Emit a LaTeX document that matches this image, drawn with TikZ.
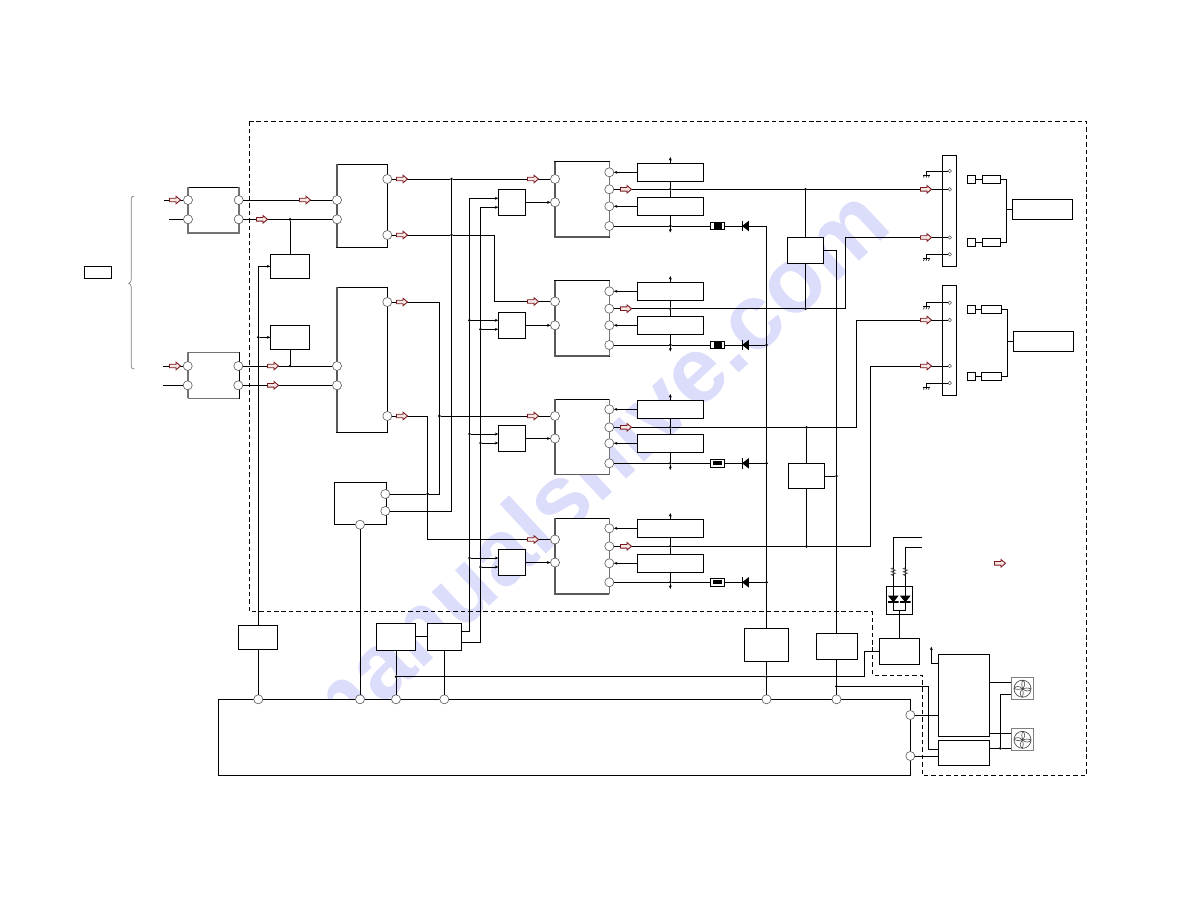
\documentclass[tikz,border=0pt]{standalone}
\usepackage{fontspec}
\setmainfont{Liberation Sans}
\usetikzlibrary{arrows.meta}
\definecolor{arrowred}{HTML}{7A1A1E}
\definecolor{arrowpink}{HTML}{F6E6E6}
\definecolor{markcolor}{HTML}{DCDCFB}
\tikzset{
	wh/.style 2 args={minimum width=#1*0.75pt,minimum height=#2*0.75pt},
	blockbox/.style={draw,fill=white,line width=.75pt,inner sep=0pt,outer sep=0pt},
	fanbox/.style={draw=gray,fill=white,line width=.8pt,inner sep=0pt,outer sep=0pt},
	port/.style={circle,draw=gray!70!black,fill=white,line width=.45pt,minimum size=6.8pt,inner sep=0pt,outer sep=0pt},
	pin/.style={circle,draw=gray!70!black,fill=white,line width=.4pt,minimum size=2.6pt,inner sep=0pt,outer sep=0pt},
	jdot/.style={circle,fill=black,minimum size=2.2pt,inner sep=0pt,outer sep=0pt},
	wire/.style={line width=.75pt},
	wiretip/.style={line width=.75pt,-{Stealth[length=2.6pt,width=2.2pt]}},
	heavyedge/.style={draw=black!65,line width=1.3pt},
	softedge/.style={draw=black!55,line width=.9pt},
	fbead/.style={draw,fill=white,line width=.75pt,inner sep=0pt,outer sep=0pt,minimum width=10.8pt,minimum height=5.6pt},
	fcore/.style={fill=black,inner sep=0pt,outer sep=0pt},
	diodeL/.style={inner sep=0pt,outer sep=0pt,minimum width=5.2pt,minimum height=8pt,path picture={
		\fill (path picture bounding box.north east) -- (path picture bounding box.south east) -- (path picture bounding box.west) -- cycle;
		\draw[line width=1.2pt] (path picture bounding box.north west) -- (path picture bounding box.south west);}},
	diodeD/.style={inner sep=0pt,outer sep=0pt,minimum width=8pt,minimum height=5pt,path picture={
		\fill (path picture bounding box.north west) -- (path picture bounding box.north east) -- (path picture bounding box.south) -- cycle;
		\draw[line width=1.3pt] (path picture bounding box.south west) -- (path picture bounding box.south east);}},
	flowarrow/.pic={\draw[draw=arrowred,fill=arrowpink,line width=.65pt] (-5.5,-1.8) -- (1,-1.8) -- (1,-3.8) -- (5.5,0) -- (1,3.8) -- (1,1.8) -- (-5.5,1.8) -- cycle;},
	groundsym/.pic={\draw[line width=.6pt] (-3,0) -- (4,0);
		\draw[line width=.45pt] (-2.5,2.5) -- (-1.5,0) (0,2.5) -- (1,0) (2.5,2.5) -- (3.5,0);},
	zigres/.pic={\draw[line width=.55pt,draw=black!70] (0,-4) -- (-2,-3) -- (2,-1.5) -- (-2,0) -- (2,1.5) -- (-2,3) -- (0,4);},
	fanblades/.pic={\draw[line width=.5pt,draw=black!70] (0,0) circle (8.5);
		\draw[line width=.45pt,draw=black!70] (0,0) .. controls (3,-3) and (3,-7) .. (0,-8.5) (0,0) .. controls (-1,-3) and (-1,-6) .. (0,-8.5);
		\draw[line width=.45pt,draw=black!70] (0,0) .. controls (3,3) and (7,3) .. (8.5,0) (0,0) .. controls (3,-1) and (6,-1) .. (8.5,0);
		\draw[line width=.45pt,draw=black!70] (0,0) .. controls (-3,3) and (-3,7) .. (0,8.5) (0,0) .. controls (1,3) and (1,6) .. (0,8.5);
		\draw[line width=.45pt,draw=black!70] (0,0) .. controls (-3,-3) and (-7,-3) .. (-8.5,0) (0,0) .. controls (-3,1) and (-6,1) .. (-8.5,0);}
}
\begin{document}
\begin{tikzpicture}[x=0.75pt,y=-0.75pt]
	\useasboundingbox (0,0) rectangle (1188,918);

	% watermark
	\node[text=markcolor,font=\bfseries\fontsize{70}{70}\selectfont,rotate=43,inner sep=0pt] (mark) at (585,472) {manualshive.com};

	% outlines
	\draw[line width=.75pt,dash pattern=on 3.4pt off 2.2pt] (249,121) -- (1086.5,121) -- (1086.5,775.5) -- (922.3,775.5) -- (922.3,675.3) -- (872.7,675.3) -- (872.7,611.5) -- (249,611.5) -- cycle;
	\draw[gray,line width=.5pt] (134.3,196) .. controls (132,196) and (131.3,197) .. (131.3,199) -- (131.3,279) .. controls (131.3,281.5) and (130.5,283) .. (128.7,283.3) .. controls (130.5,283.6) and (131.3,285) .. (131.3,288) -- (131.3,366) .. controls (131.3,368) and (132,369) .. (134.3,369);
	\node[blockbox,wh={27.4}{12}] (legendbox) at (98,272.3) {};

	% input side
	\node[blockbox,wh={51}{46}] (inA) at (213.5,210) {};
	\node[blockbox,wh={51}{45.6}] (inB) at (213.5,375.5) {};
	\node[blockbox,wh={50.5}{83}] (ampC) at (362,205.8) {};
	\node[blockbox,wh={50.5}{144.7}] (ampD) at (362,359.7) {};
	\node[blockbox,wh={39.4}{24}] (swA) at (290,266.3) {};
	\node[blockbox,wh={39.4}{24}] (swB) at (290,337.3) {};
	\node[blockbox,wh={52}{42.4}] (ctlE) at (360.4,503.5) {};
	\node[blockbox,wh={39}{24}] (swP) at (258.3,637) {};
	\draw[softedge] (inA.north west) -- (inA.south west) -- (inA.south east) -- (inA.north east);
	\draw[softedge] (inB.south west) -- (inB.north west) -- (inB.north east);
	\draw[softedge] (inB.south west) -- (inB.south east);
	\draw[heavyedge] (ampC.north west) -- (ampC.south west);
	\draw[heavyedge] (ampD.north west) -- (ampD.south west);

	% power stages
	\node[blockbox,wh={54.6}{75.6}] (icA) at (582,199.5) {};
	\node[blockbox,wh={54.6}{75.6}] (icB) at (582,318.5) {};
	\node[blockbox,wh={54.6}{75.6}] (icC) at (582,436.8) {};
	\node[blockbox,wh={54.6}{75.6}] (icD) at (582,556) {};
	\draw[heavyedge] (icA.north west) -- (icA.south west) -- (icA.south east);
	\draw[heavyedge] (icB.north west) -- (icB.south west) -- (icB.south east);
	\draw[heavyedge] (icC.north west) -- (icC.south west) -- (icC.south east);
	\draw[heavyedge] (icD.north west) -- (icD.south west) -- (icD.south east);
	\draw[softedge] (icA.north east) -- (icA.south east);
	\draw[softedge] (icB.north east) -- (icB.south east);
	\draw[softedge] (icC.north east) -- (icC.south east);
	\draw[softedge] (icD.north east) -- (icD.south east);
	\node[blockbox,wh={27.4}{26}] (mixA) at (512,202.3) {};
	\node[blockbox,wh={27.4}{26}] (mixB) at (512,325.3) {};
	\node[blockbox,wh={27.4}{26}] (mixC) at (512,438.5) {};
	\node[blockbox,wh={27.4}{26}] (mixD) at (512,562.5) {};
	\node[blockbox,wh={66}{18}] (regA1) at (670.3,172.3) {};
	\node[blockbox,wh={66}{18}] (regA2) at (670.3,206.3) {};
	\node[blockbox,wh={66}{18}] (regB1) at (670.3,291.3) {};
	\node[blockbox,wh={66}{18}] (regB2) at (670.3,325.3) {};
	\node[blockbox,wh={66}{18}] (regC1) at (670.3,409.3) {};
	\node[blockbox,wh={66}{18}] (regC2) at (670.3,443.3) {};
	\node[blockbox,wh={66}{18}] (regD1) at (670.3,528.3) {};
	\node[blockbox,wh={66}{18}] (regD2) at (670.3,563.3) {};
	\node[blockbox,wh={36.4}{26}] (detA) at (805.5,250.3) {};
	\node[blockbox,wh={36.4}{25.4}] (detB) at (806.5,476) {};

	% bottom row
	\node[blockbox,wh={39.4}{27}] (gateF) at (396,636.8) {};
	\node[blockbox,wh={33.4}{27}] (gateG) at (444.3,636.8) {};
	\node[blockbox,wh={44}{33}] (psuL) at (766.5,644.5) {};
	\node[blockbox,wh={41}{26}] (psuM) at (836.5,646) {};
	\node[blockbox,wh={40.4}{26}] (drvH) at (899.5,651.3) {};
	\node[blockbox,wh={26.4}{28}] (ledbox) at (899.5,600.3) {};
	\node[blockbox,wh={691.5}{76.2}] (board) at (564.7,737.4) {};
	\node[blockbox,wh={51}{82}] (fandrvJ) at (963.8,695.3) {};
	\node[blockbox,wh={51}{25}] (fandrvK) at (963.8,752.8) {};
	\node[fanbox,wh={22.4}{22}] (fanA) at (1022.5,688.7) {};
	\node[fanbox,wh={22.4}{22}] (fanB) at (1022.5,739.8) {};
	\pic at (1022.5,688.7) {fanblades};
	\pic at (1022.5,739.8) {fanblades};

	% speaker side
	\node[blockbox,wh={14}{111}] (connA) at (949.3,210.8) {};
	\node[blockbox,wh={14}{110}] (connB) at (949.3,340.3) {};
	\node[blockbox,wh={8.4}{8}] (sqA1) at (971.5,179.3) {};
	\node[blockbox,wh={8.4}{8}] (sqA2) at (971.5,242.3) {};
	\node[blockbox,wh={8.4}{8}] (sqB1) at (971.5,309.3) {};
	\node[blockbox,wh={8.4}{8}] (sqB2) at (971.5,376.3) {};
	\node[blockbox,wh={18.4}{8.6}] (resA1) at (991.5,179.3) {};
	\node[blockbox,wh={18.4}{8.6}] (resA2) at (991.5,242.3) {};
	\node[blockbox,wh={20.4}{8.6}] (resB1) at (991.5,309.3) {};
	\node[blockbox,wh={20.4}{8.6}] (resB2) at (991.5,376.3) {};
	\node[blockbox,wh={60.4}{20}] (spkA) at (1042.5,209.3) {};
	\node[blockbox,wh={60.4}{20}] (spkB) at (1043.5,341.3) {};

	% ports
	\node[port] (inA1) at (188,200) {};
	\node[port] (inA2) at (188,219.3) {};
	\node[port] (inA3) at (238.7,200) {};
	\node[port] (inA4) at (238.7,219.3) {};
	\node[port] (inB1) at (187.7,366) {};
	\node[port] (inB2) at (187.7,385.3) {};
	\node[port] (inB3) at (238.3,366) {};
	\node[port] (inB4) at (238.3,385.3) {};
	\node[port] (ampC1) at (337,200) {};
	\node[port] (ampC2) at (337,219.3) {};
	\node[port] (ampC3) at (387.3,179) {};
	\node[port] (ampC4) at (387.3,235) {};
	\node[port] (ampD1) at (337,366) {};
	\node[port] (ampD2) at (337,385.3) {};
	\node[port] (ampD3) at (387.3,302) {};
	\node[port] (ampD4) at (387.3,416) {};
	\node[port] (ctlE1) at (385.3,494) {};
	\node[port] (ctlE2) at (385.3,511) {};
	\node[port] (ctlE3) at (360,524.7) {};
	\node[port] (icA1) at (555,179) {};
	\node[port] (icA2) at (555,202.3) {};
	\node[port] (icA3) at (609.3,172.3) {};
	\node[port] (icA4) at (609.3,189.3) {};
	\node[port] (icA5) at (609.3,206.3) {};
	\node[port] (icA6) at (609.3,226) {};
	\node[port] (icB1) at (555,301.5) {};
	\node[port] (icB2) at (555,325.3) {};
	\node[port] (icB3) at (609.3,291.3) {};
	\node[port] (icB4) at (609.3,308.7) {};
	\node[port] (icB5) at (609.3,325.3) {};
	\node[port] (icB6) at (609.3,345) {};
	\node[port] (icC1) at (555,416) {};
	\node[port] (icC2) at (555,438.5) {};
	\node[port] (icC3) at (609.3,409.3) {};
	\node[port] (icC4) at (609.3,427.3) {};
	\node[port] (icC5) at (609.3,443.3) {};
	\node[port] (icC6) at (609.3,463.3) {};
	\node[port] (icD1) at (555,539.5) {};
	\node[port] (icD2) at (555,562.5) {};
	\node[port] (icD3) at (609.3,528.3) {};
	\node[port] (icD4) at (609.3,546.3) {};
	\node[port] (icD5) at (609.3,563.3) {};
	\node[port] (icD6) at (609.3,582.3) {};
	\node[port] (boardA) at (258.3,699.3) {};
	\node[port] (boardB) at (360,699.3) {};
	\node[port] (boardC) at (396,699.3) {};
	\node[port] (boardD) at (444.3,699.3) {};
	\node[port] (boardE) at (766.5,699.3) {};
	\node[port] (boardF) at (836.5,699.3) {};
	\node[port] (boardG) at (910.3,715) {};
	\node[port] (boardH) at (910.3,756) {};
	\node[pin] (connA1) at (949.7,171) {};
	\node[pin] (connA2) at (949.7,189.3) {};
	\node[pin] (connA3) at (949.7,237.5) {};
	\node[pin] (connA4) at (949.7,254.3) {};
	\node[pin] (connB1) at (949.7,302.7) {};
	\node[pin] (connB2) at (949.7,320) {};
	\node[pin] (connB3) at (949.7,366) {};
	\node[pin] (connB4) at (949.7,383) {};

	% junctions and bends
	\node[jdot] (jSwA) at (290,219.3) {};
	\node[jdot] (jSwB) at (290,366) {};
	\node[jdot] (jSwP) at (258.3,337.3) {};
	\node[jdot] (jUpA) at (451.5,179) {};
	\node[jdot] (jUpB) at (451.5,235) {};
	\node[jdot] (jMid) at (439.3,416) {};
	\node[jdot] (jLow) at (427.7,494) {};
	\node[jdot] (jVa2) at (469.5,320.3) {};
	\node[jdot] (jVb2) at (480.5,329.3) {};
	\node[jdot] (jVa3) at (469.5,434) {};
	\node[jdot] (jVb3) at (480.5,443) {};
	\node[jdot] (jVa4) at (469.5,558) {};
	\node[jdot] (jVb4) at (480.5,567) {};
	\node[jdot] (jRailB) at (766.5,345) {};
	\node[jdot] (jRailC) at (766.5,463.3) {};
	\node[jdot] (jRailD) at (766.5,582.3) {};
	\node[jdot] (jRailE) at (766.5,676.7) {};
	\node[jdot] (jDetA) at (805.5,189.3) {};
	\node[jdot] (jDetB) at (805.5,308.7) {};
	\node[jdot] (jDetC) at (806.5,427.3) {};
	\node[jdot] (jDetD) at (806.5,546.3) {};
	\node[jdot] (jDetE) at (836.5,476) {};
	\node[jdot] (jFan) at (836.5,686.3) {};
	\node[jdot] (jGate) at (396,676.7) {};
	\node[jdot] (jFanK) at (1000.3,748.3) {};
	\node[jdot] (jRegA1) at (670.3,189.3) {};
	\node[jdot] (jRegA2) at (670.3,226) {};
	\node[jdot] (jRegB1) at (670.3,308.7) {};
	\node[jdot] (jRegB2) at (670.3,345) {};
	\node[jdot] (jRegC1) at (670.3,427.3) {};
	\node[jdot] (jRegC2) at (670.3,463.3) {};
	\node[jdot] (jRegD1) at (670.3,546.3) {};
	\node[jdot] (jRegD2) at (670.3,582.3) {};
	\coordinate (stubA1) at (164,200);
	\coordinate (stubA2) at (169,219.3);
	\coordinate (stubB1) at (163,366);
	\coordinate (stubB2) at (163,385.3);
	\coordinate (bendC) at (494.5,270);
	\coordinate (bendD) at (427.7,470);
	\coordinate (bendE) at (439.3,494);
	\coordinate (bendV) at (451.5,511);
	\coordinate (gateOutA) at (460.7,631.3);
	\coordinate (gateOutB) at (460.7,642.3);
	\coordinate (mixInA1) at (498.3,198.3);
	\coordinate (mixInA2) at (498.3,207.3);
	\coordinate (mixInB1) at (498.3,320.3);
	\coordinate (mixInB2) at (498.3,329.3);
	\coordinate (mixInC1) at (498.3,434);
	\coordinate (mixInC2) at (498.3,443);
	\coordinate (mixInD1) at (498.3,558);
	\coordinate (mixInD2) at (498.3,567);
	\coordinate (railTop) at (766.5,226);
	\coordinate (bendDetB) at (845.5,237.5);
	\coordinate (bendDetC) at (856,320);
	\coordinate (bendDetD) at (870,366);
	\coordinate (topA) at (670.3,157);
	\coordinate (topB) at (670.3,276);
	\coordinate (topC) at (670.3,394);
	\coordinate (topD) at (670.3,513);
	\coordinate (endA) at (670.3,232.5);
	\coordinate (endB) at (670.3,351.5);
	\coordinate (endC) at (670.3,470);
	\coordinate (endD) at (670.3,589);
	\coordinate (gndA1) at (926,175);
	\coordinate (gndA2) at (926,258.3);
	\coordinate (gndB1) at (926,306.7);
	\coordinate (gndB2) at (926,387);
	\coordinate (railA) at (1006.3,209.3);
	\coordinate (railB) at (1007.3,341.3);
	\coordinate (ledEndA) at (922,537.3);
	\coordinate (ledEndB) at (922,547.3);
	\coordinate (ledMid) at (899.5,610);
	\coordinate (ledLeft) at (893.3,610);
	\coordinate (ledRight) at (905.3,610);
	\coordinate (drvBend) at (864.3,651.3);
	\coordinate (kBend) at (928.3,749.3);
	\coordinate (kIn) at (938.3,749.3);
	\coordinate (jIn) at (938.3,663.3);
	\coordinate (jTop) at (931.3,646.7);
	\coordinate (jOutA) at (989.3,682.3);
	\coordinate (jOutB) at (989.3,733);
	\coordinate (kOut) at (989.3,748.3);
	\coordinate (fanTap) at (1000.3,694.3);

	% series parts
	\node[fbead] (beadA) at (717.5,226) {};
	\node[fbead] (beadB) at (717.5,345) {};
	\node[fbead] (beadC) at (717.5,463.3) {};
	\node[fbead] (beadD) at (717.5,582.3) {};
	\node[fcore,minimum width=6pt,minimum height=5.6pt] (coreA) at (717.5,226) {};
	\node[fcore,minimum width=6pt,minimum height=5.6pt] (coreB) at (717.5,345) {};
	\node[fcore,minimum width=7pt,minimum height=3.2pt] (coreC) at (717.5,463.3) {};
	\node[fcore,minimum width=7pt,minimum height=3.2pt] (coreD) at (717.5,582.3) {};
	\node[diodeL] (dioA) at (745.5,226) {};
	\node[diodeL] (dioB) at (745.5,345) {};
	\node[diodeL] (dioC) at (745.5,463.3) {};
	\node[diodeL] (dioD) at (745.5,582.3) {};
	\node[diodeD] (ledA) at (893.3,599) {};
	\node[diodeD] (ledB) at (905.3,599) {};

	% inputs
	\draw[wire] (stubA1) -- (inA1);
	\draw[wire] (stubA2) -- (inA2);
	\draw[wire] (stubB1) -- (inB1);
	\draw[wire] (stubB2) -- (inB2);
	\draw[wire] (inA3) -- (ampC1);
	\draw[wire] (inA4) -- (jSwA) -- (ampC2);
	\draw[wire] (inB3) -- (jSwB) -- (ampD1);
	\draw[wire] (inB4) -- (ampD2);
	\draw[wire] (jSwA) -- (swA);
	\draw[wire] (swB) -- (jSwB);
	\draw[wiretip] (swP.north) |- (swA.west);
	\draw[wiretip] (jSwP) -- (swB.west);
	\draw[wire] (swP.south) -- (boardA);

	% signal paths
	\draw[wire] (ampC3) -- (jUpA) -- (icA1);
	\draw[wire] (ampC4) -- (jUpB) -| (bendC) |- (icB1);
	\draw[wire] (ampD3) -| (jMid) -- (icC1);
	\draw[wire] (ampD4) -| (bendD) |- (icD1);
	\draw[wire] (ctlE1) -- (jLow) -- (bendE) -- (jMid);
	\draw[wire] (ctlE2) -- (bendV) -- (jUpB) -- (jUpA);
	\draw[wire] (ctlE3) -- (boardB);
	\draw[wiretip] (mixA) -- (icA2);
	\draw[wiretip] (mixB) -- (icB2);
	\draw[wiretip] (mixC) -- (icC2);
	\draw[wiretip] (mixD) -- (icD2);

	% gate lines
	\draw[wire] (gateF) -- (gateG);
	\draw[wire] (gateF.south) -- (jGate) -- (boardC);
	\draw[wire] (gateG.south) -- (boardD);
	\draw[wire] (gateOutA) -| (jVa4) -- (jVa3) -- (jVa2);
	\draw[wire] (gateOutB) -| (jVb4) -- (jVb3) -- (jVb2);
	\draw[wiretip] (jVa2) |- (mixInA1);
	\draw[wiretip] (jVb2) |- (mixInA2);
	\draw[wiretip] (jVa2) -- (mixInB1);
	\draw[wiretip] (jVb2) -- (mixInB2);
	\draw[wiretip] (jVa3) -- (mixInC1);
	\draw[wiretip] (jVb3) -- (mixInC2);
	\draw[wiretip] (jVa4) -- (mixInD1);
	\draw[wiretip] (jVb4) -- (mixInD2);

	% regulators
	\draw[wiretip] (regA1) -- (icA3);
	\draw[wiretip] (regA2) -- (icA5);
	\draw[wiretip] (regB1) -- (icB3);
	\draw[wiretip] (regB2) -- (icB5);
	\draw[wiretip] (regC1) -- (icC3);
	\draw[wiretip] (regC2) -- (icC5);
	\draw[wiretip] (regD1) -- (icD3);
	\draw[wiretip] (regD2) -- (icD5);
	\draw[wiretip] (regA1) -- (topA);
	\draw[wiretip] (regB1) -- (topB);
	\draw[wiretip] (regC1) -- (topC);
	\draw[wiretip] (regD1) -- (topD);
	\draw[wire] (regA1) -- (jRegA1) -- (regA2);
	\draw[wire] (regB1) -- (jRegB1) -- (regB2);
	\draw[wire] (regC1) -- (jRegC1) -- (regC2);
	\draw[wire] (regD1) -- (jRegD1) -- (regD2);
	\draw[wire] (regA2) -- (jRegA2);
	\draw[wire] (regB2) -- (jRegB2);
	\draw[wire] (regC2) -- (jRegC2);
	\draw[wire] (regD2) -- (jRegD2);
	\draw[wiretip] (jRegA2) -- (endA);
	\draw[wiretip] (jRegB2) -- (endB);
	\draw[wiretip] (jRegC2) -- (endC);
	\draw[wiretip] (jRegD2) -- (endD);

	% rails
	\draw[wire] (icA6) -- (jRegA2) -- (beadA) -- (dioA) -- (railTop);
	\draw[wire] (icB6) -- (jRegB2) -- (beadB) -- (dioB) -- (jRailB);
	\draw[wire] (icC6) -- (jRegC2) -- (beadC) -- (dioC) -- (jRailC);
	\draw[wire] (icD6) -- (jRegD2) -- (beadD) -- (dioD) -- (jRailD);
	\draw[wire] (railTop) -- (jRailB) -- (jRailC) -- (jRailD) -- (psuL);
	\draw[wire] (psuL) -- (jRailE) -- (boardE);
	\draw[wire] (jGate) -- (jRailE) -- (drvBend |- jGate) -- (drvBend) -- (drvH);
	\draw[wire] (detA.east) -| (jDetE) -- (psuM);
	\draw[wire] (detB.east) -- (jDetE);
	\draw[wire] (psuM) -- (jFan) -- (boardF);

	% outputs to connectors
	\draw[wire] (icA4) -- (jRegA1) -- (jDetA) -- (connA2);
	\draw[wire] (icB4) -- (jRegB1) -- (jDetB) -| (bendDetB) -- (connA3);
	\draw[wire] (icC4) -- (jRegC1) -- (jDetC) -| (bendDetC) -- (connB2);
	\draw[wire] (icD4) -- (jRegD1) -- (jDetD) -| (bendDetD) -- (connB3);
	\draw[wire] (jDetA) -- (detA.north);
	\draw[wire] (detA.south) -- (jDetB);
	\draw[wire] (jDetC) -- (detB.north);
	\draw[wire] (detB.south) -- (jDetD);

	% connector grounds
	\draw[wire] (connA1) -| (gndA1);
	\draw[wire] (connA4) -| (gndA2);
	\draw[wire] (connB1) -| (gndB1);
	\draw[wire] (connB4) -| (gndB2);
	\pic at (gndA1) {groundsym};
	\pic at (gndA2) {groundsym};
	\pic at (gndB1) {groundsym};
	\pic at (gndB2) {groundsym};

	% speakers
	\draw[wire] (sqA1) -- (resA1);
	\draw[wire] (sqA2) -- (resA2);
	\draw[wire] (sqB1) -- (resB1);
	\draw[wire] (sqB2) -- (resB2);
	\draw[wire] (resA1) -| (railA) |- (resA2);
	\draw[wire] (resB1) -| (railB) |- (resB2);
	\draw[wire] (railA) -- (spkA);
	\draw[wire] (railB) -- (spkB);

	% led
	\draw[wire] (ledEndA) -| (ledA.north);
	\draw[wire] (ledEndB) -| (ledB.north);
	\draw[wire] (ledA.south) -- (ledLeft) -- (ledRight) -- (ledB.south);
	\draw[wire] (ledMid) -- (drvH);
	\pic at (893.3,571.7) {zigres};
	\pic at (905.3,571.7) {zigres};

	% fans
	\draw[wire] (boardG) -- (boardG -| fandrvJ.west);
	\draw[wire] (boardH) -- (boardH -| fandrvK.west);
	\draw[wire] (jFan) -| (kBend) -- (kIn);
	\draw[wiretip] (jIn) -| (jTop);
	\draw[wire] (jOutA) -- (jOutA -| fanA.west);
	\draw[wire] (jOutB) -- (jOutB -| fanB.west);
	\draw[wire] (kOut) -- (jFanK) -- (jFanK -| fanB.west);
	\draw[wire] (jFanK) -- (fanTap) -- (fanTap -| fanA.west);

	% flow arrows
	\pic at (175,200) {flowarrow};
	\pic at (175,366) {flowarrow};
	\pic at (305,200) {flowarrow};
	\pic at (262,219.3) {flowarrow};
	\pic at (273,366) {flowarrow};
	\pic at (273,385.3) {flowarrow};
	\pic at (402,179) {flowarrow};
	\pic at (402,235) {flowarrow};
	\pic at (402,302) {flowarrow};
	\pic at (402,416) {flowarrow};
	\pic at (533,179) {flowarrow};
	\pic at (533,301.5) {flowarrow};
	\pic at (533,416) {flowarrow};
	\pic at (533,539.5) {flowarrow};
	\pic at (626,189.3) {flowarrow};
	\pic at (626,308.7) {flowarrow};
	\pic at (626,427.3) {flowarrow};
	\pic at (626,546.3) {flowarrow};
	\pic at (926,189.3) {flowarrow};
	\pic at (926,237.5) {flowarrow};
	\pic at (926,320) {flowarrow};
	\pic at (926,366) {flowarrow};
	\pic at (1000,563.3) {flowarrow};

\end{tikzpicture}
\end{document}
